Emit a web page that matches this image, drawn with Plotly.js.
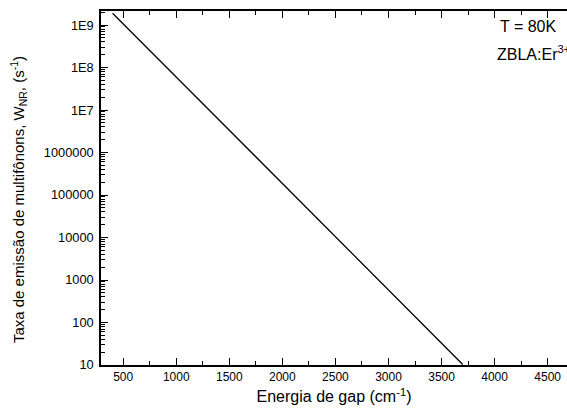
<!DOCTYPE html>
<html>
<head>
<meta charset="utf-8">
<script src="https://cdn.plot.ly/plotly-3.0.1.min.js"></script>
<style>html,body{margin:0;padding:0;background:#fff}#chart{width:567px;height:416px}</style>
</head>
<body>
<div id="chart"></div>
<script>
const energy = [400, 1000, 2000, 3000, 3700];
const rate = [1.9e9, 6.0e7, 1.87e5, 585, 10.3];
const yTickVals = [10, 100, 1000, 10000, 100000, 1000000, 1e7, 1e8, 1e9];
const yTickText = ["10", "100", "1000", "10000", "100000", "1000000", "1E7", "1E8", "1E9"];
const xTickVals = [500, 1000, 1500, 2000, 2500, 3000, 3500, 4000, 4500];

const yMinor = [];
for (let d = 1; d <= 9; d++) for (let m = 2; m <= 9; m++) yMinor.push(m * Math.pow(10, d));
const xMinor = [];
for (let v = 250; v < 4700; v += 500) xMinor.push(v);

const font = "Liberation Sans, Arial, sans-serif";

Plotly.newPlot("chart", [{
  x: energy, y: rate, type: "scatter", mode: "lines",
  line: {color: "#000", width: 1.3}, hoverinfo: "skip"
}, {
  x: [null], y: [null], xaxis: "x2", yaxis: "y2", type: "scatter", mode: "lines", hoverinfo: "skip"
}], {
  width: 567, height: 416,
  margin: {l: 101, r: 0, t: 11, b: 51},
  paper_bgcolor: "#fff", plot_bgcolor: "#fff",
  showlegend: false,
  font: {family: font, color: "#000", size: 12},
  xaxis: {
    range: [291, 4682],
    tickmode: "array", tickvals: xTickVals,
    ticks: "inside", ticklen: 7, tickwidth: 1.3, tickcolor: "#000",
    showline: true, linecolor: "#000", linewidth: 1.5, mirror: "ticks",
    showgrid: false, zeroline: false,
    tickfont: {size: 12, family: font},
    title: {text: "Energia de gap (cm<sup>-1</sup>)", font: {size: 16, family: font}, standoff: 8}
  },
  yaxis: {
    type: "log",
    range: [1, 9.33],
    tickmode: "array", tickvals: yTickVals, ticktext: yTickText,
    ticks: "inside", ticklen: 7, tickwidth: 1.3, tickcolor: "#000",
    showline: true, linecolor: "#000", linewidth: 1.5, mirror: false,
    showgrid: false, zeroline: false,
    ticklabelstandoff: 3,
    tickfont: {size: 12.8, family: font}
  },
  xaxis2: {
    overlaying: "x", range: [291, 4682],
    tickmode: "array", tickvals: xMinor, ticktext: xMinor.map(() => ""),
    ticks: "inside", ticklen: 4, tickwidth: 1.1, tickcolor: "#000",
    showline: false, mirror: "ticks", showgrid: false, zeroline: false, showticklabels: false
  },
  yaxis2: {
    overlaying: "y", type: "log", range: [1, 9.33],
    tickmode: "array", tickvals: yMinor, ticktext: yMinor.map(() => ""),
    ticks: "inside", ticklen: 4, tickwidth: 1.1, tickcolor: "#000",
    showline: false, showgrid: false, zeroline: false, showticklabels: false
  },
  annotations: [
    {xref: "paper", yref: "paper", x: -0.178, y: 0.466, xanchor: "center", yanchor: "middle",
     textangle: -90, text: "Taxa de emissão de multifônons, W<sub>NR</sub>, (s<sup>-1</sup>)",
     showarrow: false, font: {size: 15, family: font}},
    {xref: "paper", yref: "paper", x: 0.852, y: 0.955, xanchor: "left", yanchor: "middle",
     text: "T = 80K", showarrow: false, font: {size: 16, family: font}},
    {xref: "paper", yref: "paper", x: 0.846, y: 0.88, xanchor: "left", yanchor: "middle",
     text: "ZBLA:Er<sup>3+</sup>", showarrow: false, font: {size: 16, family: font}}
  ]
}, {displayModeBar: false});
</script>
</body>
</html>
